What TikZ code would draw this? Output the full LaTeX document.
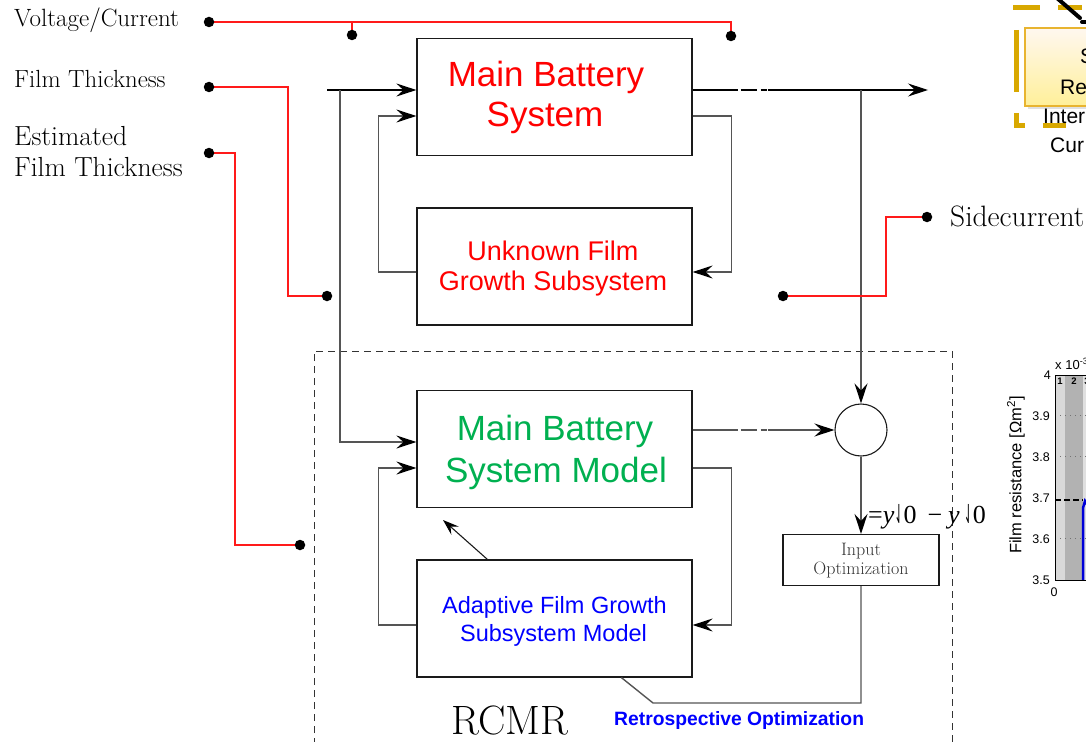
\documentclass[tikz,border=0pt]{standalone}
\usepackage{fontspec}
\usetikzlibrary{arrows.meta,calc}
\newfontfamily\arialf{Liberation Sans}
\newfontfamily\timesf{Liberation Serif}
\newfontfamily\djv{DejaVu Sans}
\definecolor{redline}{HTML}{FF1A1A}
\definecolor{mbgreen}{HTML}{00B050}
\definecolor{mbblue}{HTML}{0000FF}
\definecolor{conncol}{HTML}{555555}
\definecolor{goldc}{HTML}{D8A800}
\definecolor{goldb}{HTML}{E8B430}
\definecolor{boxb}{HTML}{1A1A1A}
\definecolor{iotext}{HTML}{333333}
\begin{document}
\begin{tikzpicture}[x=1pt,y=-1pt,
  sysbox/.style={draw=boxb,line width=1.2pt,minimum width=275pt,minimum height=117pt,inner sep=0pt},
  conn/.style={draw=conncol,line width=1.4pt},
  arr/.style={conn,-{Stealth[length=20pt,width=13pt,inset=7pt,black]}},
  gapline/.style={dash pattern=on 45pt off 3pt on 16pt off 4pt on 6pt off 1pt on 600pt},
  redw/.style={draw=redline,line width=1.1pt},
  dot/.style={circle,fill=black,inner sep=0pt,minimum size=10.5pt},
  lbl/.style={anchor=base west,inner sep=0pt},
  big/.style={anchor=base,inner sep=0pt,font=\arialf\fontsize{35}{40}\selectfont},
  goldd/.style={draw=goldc,line width=5pt},
]
\clip (0,0) rectangle (1086,741);
\useasboundingbox (0,0) rectangle (1086,741);

% ---- left labels
\node[lbl,font=\fontsize{25}{28}\selectfont] (lvc) at (14,27) {Voltage/Current};
\node[lbl,font=\fontsize{24.8}{28}\selectfont] (lft) at (14,88) {Film Thickness};
\node[lbl,font=\fontsize{27.6}{30}\selectfont] (lest1) at (14,146) {Estimated};
\node[lbl,font=\fontsize{27.6}{30}\selectfont] (lest2) at (14,176) {Film Thickness};
\node[lbl,font=\fontsize{29.5}{32}\selectfont] (lside) at (950,226) {Sidecurrent};

% ---- boxes
\node[sysbox] (mbs) at (554.5,97) {};
\node[sysbox] (ufgs) at (554.5,266.5) {};
\node[sysbox] (mbsm) at (554.5,449) {};
\node[sysbox] (afgsm) at (554.5,618.5) {};
\node[draw=boxb,line width=1.1pt,minimum width=156pt,minimum height=51pt,inner sep=0pt] (io) at (861,560) {};
\node[draw=boxb,line width=1.1pt,circle,minimum size=52pt,inner sep=0pt] (sum) at (861,430) {};

% ---- box texts
\node[big,text=red] (t1a) at (546,87) {Main Battery};
\node[big,text=red] (t1b) at (545,127) {System};
\node[anchor=base,inner sep=0pt,font=\arialf\fontsize{27}{30}\selectfont,text=red] (t2a) at (553,260) {Unknown Film};
\node[anchor=base,inner sep=0pt,font=\arialf\fontsize{27}{30}\selectfont,text=red] (t2b) at (553,290) {Growth Subsystem};
\node[big,text=mbgreen] (t3a) at (555,440) {Main Battery};
\node[big,text=mbgreen] (t3b) at (556,482) {System Model};
\node[anchor=base,inner sep=0pt,font=\arialf\fontsize{23.5}{28}\selectfont,text=mbblue] (t4a) at (554.5,613) {Adaptive Film Growth};
\node[anchor=base,inner sep=0pt,font=\arialf\fontsize{23.5}{28}\selectfont,text=mbblue] (t4b) at (553.5,641) {Subsystem Model};
\node[anchor=base,inner sep=0pt,font=\fontsize{18}{20}\selectfont,text=iotext] (t5a) at (861,555) {Input};
\node[anchor=base,inner sep=0pt,font=\fontsize{18}{20}\selectfont,text=iotext] (t5b) at (861,574) {Optimization};

% ---- RCMR dashed region
\draw[draw=iotext,line width=1pt,dash pattern=on 7pt off 5pt] (314,745) -- (314,351) -- (952,351) -- (952,745);
\node[lbl,font=\fontsize{41}{44}\selectfont] (rcmr) at (451,734) {RCMR};
\node[lbl,font=\arialf\bfseries\fontsize{19.3}{22}\selectfont,text=mbblue] (retro) at (614,725) {Retrospective Optimization};
\node[lbl,font=\timesf\fontsize{26}{28}\selectfont] (err) at (868,523)
  {=\textit{y}\scalebox{0.42}[1]{\djv ⇃}0\hspace{11pt}−\hspace{6pt}\textit{y}\hspace{4pt}\scalebox{0.42}[1]{\djv ⇃}0};

% ---- junction coordinates
\coordinate (inS) at (327,90);
\coordinate (inJ) at (340,90);
\coordinate (outE) at (928,90);
\coordinate (tap) at (861,90);
\coordinate (diagS) at ($(afgsm.north west)+(71,0)$);
\coordinate (diagE) at (443,520);
\coordinate (botR) at (861,703);
\coordinate (botL) at (653,703);
\coordinate (retE) at ($(afgsm.south west)+(205,0)$);

% ---- connectors
\draw[arr,draw=black] (inS) -- (mbs.west |- inS);
\draw[arr] (inJ) |- ($(mbsm.west)+(0,-7)$);
\draw[arr] ($(ufgs.west)+(0,5.5)$) -- ++(-38,0) |- ($(mbs.west)+(0,19)$);
\draw[arr] ($(mbs.east)+(0,19)$) -- ++(39,0) |- ($(ufgs.east)+(0,5.5)$);
\draw[arr,draw=black,line width=1.1pt,gapline] ($(mbs.east)+(0,-7)$) -- (outE);
\draw[arr] (tap) -- (sum.north);
\draw[arr] (sum.south) -- (io.north);
\draw[arr,gapline] ($(mbsm.east)+(0,-19)$) -- (sum.west);
\draw[arr] ($(mbsm.east)+(0,19)$) -- ++(39,0) |- ($(afgsm.east)+(0,6.5)$);
\draw[arr] ($(afgsm.west)+(0,6.5)$) -- ++(-38,0) |- ($(mbsm.west)+(0,19)$);
\draw[draw=boxb,line width=1.1pt,-{Stealth[length=16pt,width=11pt,inset=6pt,black]}] (diagS) -- (diagE);
\draw[conn] (io.south) -- (botR) -- (botL) -- (retE);

% ---- red signal wires and dots
\draw[redw] (209,22) -- (731,22) -- (731,36);
\draw[redw] (352,22) -- (352,35);
\draw[redw] (209,87) -- (288,87) |- (327,296);
\draw[redw] (209,153) -- (235,153) |- (300,545);
\draw[redw] (783,296) -- (886,296) |- (927,217);
\node[dot] (d1) at (209,22) {};
\node[dot] (d2) at (209,87) {};
\node[dot] (d3) at (209,153) {};
\node[dot] (d4) at (352,35) {};
\node[dot] (d5) at (731,36) {};
\node[dot] (d6) at (327,296) {};
\node[dot] (d7) at (300,545) {};
\node[dot] (d8) at (783,296) {};
\node[dot] (d9) at (927,217) {};

% ---- top-right fragment of another figure
\draw[goldd] (1013,8) -- (1040,8);
\draw[goldd] (1058,8) -- (1082,8);
\draw[goldd] (1016,30) -- (1016,92);
\draw[goldd] (1016,113) -- (1016,126) -- (1025,126);
\draw[goldd] (1043,126) -- (1066,126);
\fill[black!12] (1028,31) rectangle (1095,109);
\shade[top color=orange!6,bottom color=orange!30!yellow!40] (1025,28) rectangle (1095,106);
\draw[draw=goldb,line width=1.5pt] (1095,28) -- (1025,28) -- (1025,106) -- (1095,106);
\draw[line width=4pt,line cap=round] (1050,-8) -- (1080,18);
\draw[line width=4pt,line cap=round] (1082,22) -- (1092,22);
\node[lbl,font=\arialf\fontsize{21}{24}\selectfont] (fs) at (1080,64) {S};
\node[lbl,font=\arialf\fontsize{21}{24}\selectfont] (fre) at (1060,95) {Re};
\node[lbl,font=\arialf\fontsize{21}{24}\selectfont] (fin) at (1043,124) {Inter};
\node[lbl,font=\arialf\fontsize{21}{24}\selectfont] (fcu) at (1050,153) {Cur};

% ---- plot fragment
\fill[black!15] (1055,375) rectangle (1065,580);
\fill[black!30] (1065,375) rectangle (1083,580);
\fill[black!12] (1083,375) rectangle (1095,580);
\foreach \yy in {415,456,538} \draw[black!55,line width=0.8pt,dash pattern=on 1pt off 4pt] (1055,\yy) -- (1095,\yy);
\draw[black,line width=1.5pt,dash pattern=on 6pt off 3pt] (1055,500) -- (1083,500);
\draw[blue!85!black,line width=2.5pt] (1083,580) -- (1083,508) -- (1085,501) -- (1088,506);
\draw[black,line width=0.8pt] (1095,375) -- (1055,375) -- (1055,580) -- (1095,580);
\node[anchor=east,inner sep=0pt,font=\arialf\fontsize{12.5}{14}\selectfont] (y4) at (1051,375) {4};
\node[anchor=east,inner sep=0pt,font=\arialf\fontsize{12.5}{14}\selectfont] (y39) at (1050,416) {3.9};
\node[anchor=east,inner sep=0pt,font=\arialf\fontsize{12.5}{14}\selectfont] (y38) at (1050,457) {3.8};
\node[anchor=east,inner sep=0pt,font=\arialf\fontsize{12.5}{14}\selectfont] (y37) at (1050,498) {3.7};
\node[anchor=east,inner sep=0pt,font=\arialf\fontsize{12.5}{14}\selectfont] (y36) at (1050,539) {3.6};
\node[anchor=east,inner sep=0pt,font=\arialf\fontsize{12.5}{14}\selectfont] (y35) at (1050,580) {3.5};
\node[inner sep=0pt,font=\arialf\fontsize{12.5}{14}\selectfont] (x0) at (1054,592) {0};
\node[lbl,font=\arialf\fontsize{13}{15}\selectfont] (xexp) at (1055,369) {x 10\textsuperscript{-3}};
\node[inner sep=0pt,font=\arialf\bfseries\fontsize{9.5}{10}\selectfont] (b1) at (1060,381) {1};
\node[inner sep=0pt,font=\arialf\bfseries\fontsize{9.5}{10}\selectfont] (b2) at (1074,381) {2};
\node[inner sep=0pt,font=\arialf\bfseries\fontsize{9.5}{10}\selectfont] (b3) at (1087,381) {3};
\node[rotate=90,inner sep=0pt,font=\arialf\fontsize{16.5}{18}\selectfont] (ylab) at (1016,475) {Film resistance [Ωm\textsuperscript{2}]};
\end{tikzpicture}
\end{document}
